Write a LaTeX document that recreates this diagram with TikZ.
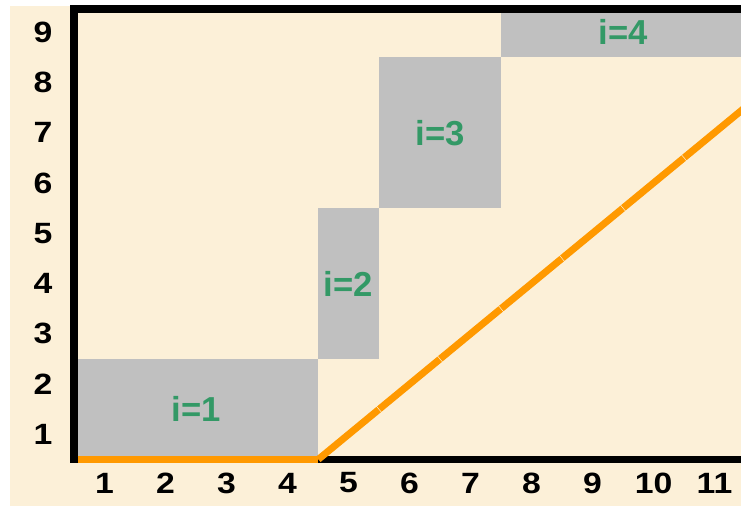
\documentclass[tikz,border=0pt]{standalone}
\usepackage{fontspec}
\setmainfont{Liberation Sans}
\newfontfamily\tickfont[FakeStretch=1.15]{Liberation Sans}
\usetikzlibrary{positioning}
\definecolor{paper}{HTML}{FCF0D8}
\definecolor{block}{HTML}{C0C0C0}
\definecolor{tagc}{HTML}{339966}
\definecolor{trace}{HTML}{FF9900}
\tikzset{
  blk/.style={fill=block,draw=none},
  tagl/.style={font=\bfseries\fontsize{26}{26}\selectfont,text=tagc,inner sep=0pt},
  tick/.style={font=\tickfont\bfseries\fontsize{22}{22}\selectfont,text=black,inner sep=0pt},
  axis/.style={line width=5.5pt,draw=black},
  route/.style={line width=5.25pt,draw=trace}
}

\begin{document}
\begin{tikzpicture}[x=45.75pt,y=37.725pt]
  \useasboundingbox (-1.213,-0.922) rectangle (10.934,9.137);
  \clip (-1.213,-0.922) rectangle (10.934,9.137);
  \fill[paper] (-1.049,-0.922) rectangle (10.934,9.018);
  % blocks
  \foreach \a/\b/\c/\d/\n in {0/0/4/2/1,4/2/5/5/2,5/5/7/8/3,7/8/11/9/4}{
    \fill[blk] (\a,\b) rectangle (\c,\d);
    \node[tagl] (i\n) at ({(\a+\c)/2},{(\b+\d)/2}) {i=\n};
  }
  % axis labels
  \foreach \k in {1,...,11}
    \node[tick] (x\k) at (\k-0.5,-0.465) {\k};
  \foreach \k in {1,...,9}
    \node[tick] (y\k) at (-0.508,\k-0.5) {\k};
  % frame
  \draw[axis] (11,0) -- (0,0) -- (0,8.96) -- (11,8.96);
  % orange trace
  \draw[route] (0.06,0) -- (4,0);
  \foreach \k in {4,...,10}
    \draw[route,shorten <=0.3pt,shorten >=0.3pt] (\k,\k-4) -- (\k+1,\k-3);
\end{tikzpicture}
\end{document}
